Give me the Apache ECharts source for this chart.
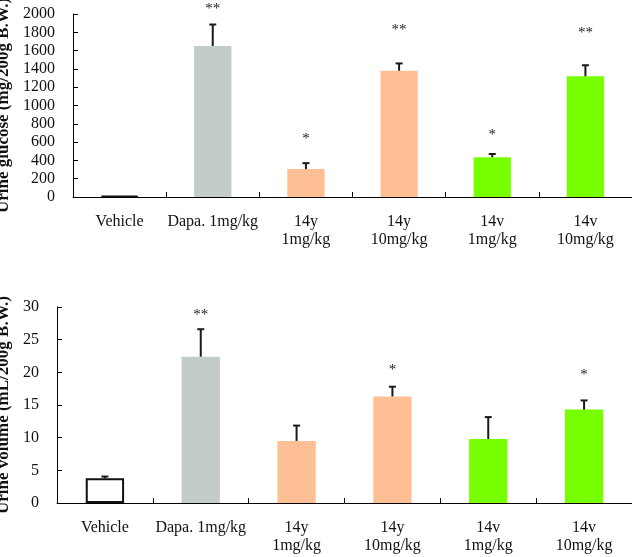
<!DOCTYPE html>
<html>
<head>
<meta charset="utf-8">
<script src="https://cdn.jsdelivr.net/npm/echarts@6/dist/echarts.min.js"></script>
<style>
html,body{margin:0;padding:0;background:#fff;}
#c{width:632px;height:557px;}
</style>
</head>
<body>
<div id="c"></div>
<script>
const categories = ['Vehicle', 'Dapa. 1mg/kg', '14y\n1mg/kg', '14y\n10mg/kg', '14v\n1mg/kg', '14v\n10mg/kg'];

const glucoseMean = [10, 1650, 305, 1380, 435, 1320];
const glucoseErr = [0, 235, 65, 80, 35, 120];
const glucoseStarY = [null, 2090, 665, 1860, 705, 1825];
const glucoseStars = ['', '**', '*', '**', '*', '**'];

const volumeMean = [3.8, 22.4, 9.5, 16.3, 9.8, 14.3];
const volumeErr = [0.25, 4.2, 2.35, 1.5, 3.35, 1.4];
const volumeStarY = [null, 29.2, null, 20.85, null, 20.0];
const volumeStars = ['', '**', '', '*', '', '*'];

const glucoseTicks = { min: 0, max: 2000, interval: 200 };
const volumeTicks = { min: 0, max: 30, interval: 5 };

const barFills = ['#ffffff', '#c3ccc8', '#ffbf94', '#ffbf94', '#77ff00', '#77ff00'];
const barBorders = ['#111111', '#c3ccc8', '#ffbf94', '#ffbf94', '#77ff00', '#77ff00'];

const FONT = '"Liberation Serif", "Times New Roman", serif';

function barData(vals) {
  return vals.map((v, i) => ({
    value: v,
    itemStyle: {
      color: barFills[i],
      borderColor: barBorders[i],
      borderWidth: i === 0 ? 2 : 0
    }
  }));
}

function errData(mean, err) {
  return mean.map((m, i) => [i, m, err[i]]);
}

function starSeries(ys, stars, axisIdx) {
  const pts = [], labels = [];
  ys.forEach((y, i) => { if (y != null && stars[i]) { pts.push([i, y]); labels.push(stars[i]); } });
  return {
    type: 'custom', xAxisIndex: axisIdx, yAxisIndex: axisIdx, clip: false, z: 4,
    data: pts,
    renderItem: function (params, api) {
      const p = api.coord([api.value(0), api.value(1)]);
      return {
        type: 'text',
        x: p[0],
        y: p[1] + 3,
        style: { text: labels[params.dataIndex], fill: '#222', font: '15px ' + FONT, align: 'center', verticalAlign: 'middle' }
      };
    }
  };
}

function errRender(params, api) {
  const i = api.value(0), m = api.value(1), e = api.value(2);
  if (!e) return null;
  const p0 = api.coord([i, m]);
  const p1 = api.coord([i, m + e]);
  const cap = 3.5;
  return {
    type: 'group',
    children: [
      { type: 'line', shape: { x1: p0[0], y1: p0[1], x2: p1[0], y2: p1[1] }, style: { stroke: '#1a1a1a', lineWidth: 2 } },
      { type: 'line', shape: { x1: p1[0] - cap, y1: p1[1], x2: p1[0] + cap, y2: p1[1] }, style: { stroke: '#1a1a1a', lineWidth: 2 } }
    ]
  };
}

function xAxis(gridIndex) {
  return {
    type: 'category',
    gridIndex: gridIndex,
    data: categories,
    boundaryGap: true,
    axisLine: { lineStyle: { color: '#000', width: 1 } },
    axisTick: { show: true, inside: true, length: 5, lineStyle: { color: '#000' } },
    axisLabel: { color: '#111', fontFamily: FONT, fontSize: 16, lineHeight: 18, margin: 16, interval: 0 }
  };
}

function yAxis(gridIndex, ticks, name, gap) {
  return {
    type: 'value',
    gridIndex: gridIndex,
    min: ticks.min, max: ticks.max, interval: ticks.interval,
    name: name,
    nameLocation: 'middle',
    nameGap: gap,
    nameTextStyle: { color: '#111', fontFamily: FONT, fontSize: 17, fontWeight: 'bold' },
    splitLine: { show: false },
    axisLine: { show: true, lineStyle: { color: '#000', width: 1 } },
    axisTick: { show: true, inside: true, length: 5, lineStyle: { color: '#000' } },
    axisLabel: { color: '#111', fontFamily: FONT, fontSize: 16, margin: 18, showMinLabel: true, showMaxLabel: true, formatter: v => String(v) }
  };
}

const chart = echarts.init(document.getElementById('c'), null, { renderer: 'canvas' });
chart.setOption({
  animation: false,
  backgroundColor: '#fff',
  grid: [
    { left: 73, right: 0, top: 14, bottom: 360, containLabel: false, outerBoundsMode: 'none' },
    { left: 57, right: 0, top: 307, bottom: 54, containLabel: false, outerBoundsMode: 'none' }
  ],
  xAxis: [xAxis(0), xAxis(1)],
  yAxis: [
    yAxis(0, glucoseTicks, 'Urine glucose (mg/200g B.W.)', 56),
    yAxis(1, volumeTicks, 'Urine volume (mL/200g B.W.)', 40)
  ],
  series: [
    { type: 'bar', xAxisIndex: 0, yAxisIndex: 0, barWidth: '40%', data: barData(glucoseMean) },
    { type: 'custom', xAxisIndex: 0, yAxisIndex: 0, renderItem: errRender, data: errData(glucoseMean, glucoseErr), z: 3 },
    starSeries(glucoseStarY, glucoseStars, 0),
    { type: 'bar', xAxisIndex: 1, yAxisIndex: 1, barWidth: '40%', data: barData(volumeMean) },
    { type: 'custom', xAxisIndex: 1, yAxisIndex: 1, renderItem: errRender, data: errData(volumeMean, volumeErr), z: 3 },
    starSeries(volumeStarY, volumeStars, 1)
  ]
});
</script>
</body>
</html>
